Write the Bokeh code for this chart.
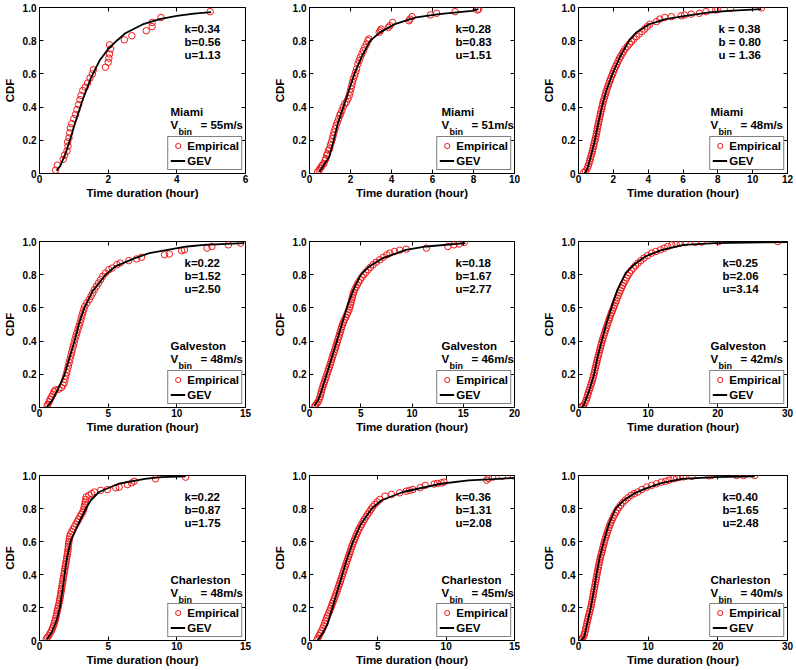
from bokeh.plotting import figure
from bokeh.models import Range1d, FixedTicker, Label, LinearAxis, CustomJSTickFormatter
from bokeh.layouts import gridplot
from bokeh.embed import file_html
from bokeh.resources import INLINE

FONT = "Liberation Sans"
RED = "#f01818"

# ---------------- data ----------------
y_ticks = [0, 0.2, 0.4, 0.6, 0.8, 1.0]

# Row 1: Miami
miami55_emp = [(0.47,0.02),(0.52,0.05),(0.69,0.085),(0.73,0.11),(0.80,0.135),(0.83,0.165),(0.82,0.19),
               (0.86,0.215),(0.88,0.245),(0.90,0.275),(0.94,0.30),(1.00,0.33),(1.05,0.355),(1.09,0.385),
               (1.14,0.415),(1.18,0.445),(1.21,0.47),(1.26,0.50),(1.33,0.52),(1.40,0.545),(1.47,0.575),
               (1.54,0.60),(1.57,0.625),(1.92,0.64),(2.00,0.67),(2.02,0.695),(2.04,0.72),(2.07,0.75),
               (2.04,0.775),(2.47,0.805),(2.69,0.83),(3.11,0.86),(3.28,0.885),(3.28,0.91),(3.54,0.94),(4.97,0.975)]
miami55_gev_x = [0.50,0.60,0.75,0.90,1.00,1.25,1.50,1.75,2.00,2.25,2.50,3.00,3.50,4.00,4.50,5.00]
miami55_gev_y = [0.016,0.045,0.115,0.21,0.28,0.44,0.576,0.68,0.75,0.80,0.845,0.898,0.930,0.950,0.963,0.972]

miami51_emp = [(0.40,0.01),(0.47,0.02),(0.52,0.03),(0.58,0.04),(0.62,0.05),(0.70,0.06),(0.76,0.08),(0.80,0.09),
               (0.84,0.11),(0.88,0.12),(0.93,0.14),(0.98,0.15),(1.02,0.17),(1.07,0.19),(1.12,0.21),(1.16,0.23),
               (1.20,0.25),(1.25,0.27),(1.30,0.29),(1.36,0.31),(1.42,0.33),(1.48,0.35),(1.52,0.36),(1.58,0.38),
               (1.64,0.40),(1.72,0.42),(1.80,0.43),(1.88,0.45),(1.94,0.47),(1.98,0.49),(2.02,0.51),(2.06,0.53),
               (2.10,0.55),(2.14,0.57),(2.20,0.59),(2.25,0.61),(2.30,0.63),(2.36,0.66),(2.42,0.68),(2.48,0.70),
               (2.55,0.72),(2.62,0.74),(2.70,0.76),(2.78,0.78),(2.85,0.80),(2.90,0.81),(3.40,0.85),(3.45,0.86),
               (3.50,0.87),(3.85,0.88),(3.92,0.89),(4.05,0.91),(4.85,0.92),(4.90,0.93),(5.00,0.945),(5.90,0.955),
               (6.20,0.965),(7.10,0.975),(8.20,0.985),(8.25,0.99)]
miami51_gev_x = [0.48,0.96,1.20,1.39,1.65,1.92,2.19,2.53,2.96,3.44,4.16,5.20,6.32,7.92,8.24]
miami51_gev_y = [0.01,0.10,0.21,0.305,0.40,0.50,0.60,0.70,0.80,0.85,0.90,0.94,0.96,0.98,0.99]

miami48_emp = [(0.30,0.005),(0.40,0.015),(0.50,0.03),(0.55,0.045),(0.60,0.06),(0.64,0.075),(0.68,0.09),(0.72,0.105),
               (0.76,0.12),(0.80,0.135),(0.83,0.15),(0.87,0.165),(0.90,0.18),(0.93,0.195),(0.97,0.21),(1.00,0.225),
               (1.03,0.24),(1.06,0.255),(1.08,0.27),(1.11,0.285),(1.14,0.30),(1.17,0.315),(1.20,0.33),(1.23,0.345),
               (1.26,0.36),(1.29,0.375),(1.33,0.39),(1.36,0.405),(1.39,0.42),(1.43,0.435),(1.47,0.45),(1.51,0.465),
               (1.55,0.48),(1.59,0.495),(1.64,0.51),(1.69,0.525),(1.74,0.54),(1.79,0.555),(1.84,0.57),(1.90,0.585),
               (1.96,0.60),(2.01,0.615),(2.07,0.63),(2.14,0.645),(2.20,0.66),(2.27,0.675),(2.34,0.69),(2.42,0.705),
               (2.50,0.72),(2.58,0.735),(2.68,0.75),(2.80,0.765),(2.92,0.78),(3.05,0.795),(3.18,0.81),(3.32,0.825),
               (3.48,0.84),(3.64,0.855),(3.80,0.87),(3.95,0.885),(4.10,0.90),(4.48,0.915),(4.67,0.93),(4.95,0.94),
               (5.33,0.945),(5.90,0.95),(6.09,0.955),(6.47,0.96),(6.94,0.965),(7.32,0.975),(7.88,0.985),(8.00,0.99),
               (8.73,0.995),(10.50,0.997)]
miami48_gev_x = [0.35,0.50,0.70,0.94,1.13,1.34,1.60,1.95,2.37,2.90,3.32,4.08,5.00,6.15,7.50,8.60,10.50]
miami48_gev_y = [0.00,0.025,0.10,0.20,0.30,0.40,0.50,0.60,0.70,0.80,0.85,0.90,0.93,0.95,0.97,0.98,0.99]

# Row 2: Galveston
galv48_emp = [(0.55,0.01),(0.62,0.02),(0.70,0.035),(0.78,0.05),(0.88,0.065),(0.98,0.08),(1.05,0.095),(1.15,0.105),
              (1.40,0.11),(1.60,0.12),(1.72,0.135),(1.80,0.15),(1.86,0.17),(1.92,0.19),(1.98,0.21),(2.04,0.23),
              (2.10,0.25),(2.16,0.27),(2.22,0.29),(2.28,0.31),(2.34,0.33),(2.40,0.35),(2.46,0.37),(2.52,0.39),
              (2.58,0.41),(2.65,0.43),(2.72,0.45),(2.80,0.47),(2.88,0.49),(2.95,0.51),(3.02,0.53),(3.08,0.55),
              (3.15,0.57),(3.22,0.59),(3.30,0.61),(3.45,0.63),(3.62,0.65),(3.75,0.67),(3.88,0.69),(4.00,0.71),
              (4.15,0.73),(4.30,0.75),(4.45,0.77),(4.60,0.79),(4.80,0.81),(5.05,0.83),(5.29,0.84),(5.64,0.86),
              (5.88,0.87),(6.50,0.885),(7.07,0.895),(7.43,0.905),(9.10,0.92),(9.45,0.925),(10.35,0.945),
              (10.55,0.95),(12.20,0.96),(12.55,0.97),(13.75,0.98),(14.65,0.99)]
galv48_gev_x = [0.52,0.90,1.29,1.83,2.19,2.55,2.86,3.26,3.86,4.81,5.52,6.95,8.00,9.33,10.76,12.00,14.90]
galv48_gev_y = [0.00,0.04,0.10,0.20,0.30,0.40,0.50,0.60,0.70,0.80,0.85,0.90,0.93,0.95,0.97,0.98,0.99]

galv46_emp = [(0.50,0.005),(0.60,0.015),(0.72,0.025),(0.85,0.035),(0.95,0.05),(1.03,0.065),(1.10,0.08),(1.16,0.095),
              (1.22,0.11),(1.30,0.125),(1.38,0.14),(1.46,0.155),(1.54,0.17),(1.62,0.185),(1.70,0.20),(1.78,0.215),
              (1.86,0.23),(1.94,0.245),(2.02,0.26),(2.10,0.275),(2.17,0.29),(2.24,0.305),(2.32,0.32),(2.40,0.335),
              (2.48,0.35),(2.56,0.365),(2.63,0.38),(2.70,0.395),(2.78,0.41),(2.86,0.425),(2.93,0.44),(3.00,0.455),
              (3.07,0.47),(3.14,0.485),(3.22,0.50),(3.32,0.515),(3.43,0.53),(3.54,0.545),(3.65,0.56),(3.76,0.575),
              (3.86,0.59),(3.94,0.605),(4.00,0.62),(4.06,0.635),(4.12,0.65),(4.18,0.665),(4.24,0.68),(4.32,0.695),
              (4.42,0.71),(4.54,0.725),(4.66,0.74),(4.80,0.755),(4.95,0.77),(5.12,0.785),(5.30,0.80),(5.50,0.815),
              (5.72,0.83),(5.95,0.845),(6.20,0.86),(6.50,0.875),(6.85,0.89),(7.20,0.905),(7.55,0.92),(7.84,0.93),
              (8.30,0.94),(8.80,0.948),(9.44,0.954),(11.40,0.96),(13.50,0.97),(14.10,0.98),(14.60,0.985),(15.10,0.995)]
galv46_gev_x = [0.48,0.85,1.17,1.67,2.17,2.67,3.17,3.67,4.27,5.00,5.83,7.17,9.40,11.40,15.20]
galv46_gev_y = [0.01,0.045,0.10,0.20,0.30,0.40,0.505,0.606,0.707,0.80,0.85,0.90,0.95,0.97,0.99]

galv42_emp = [(0.35,0.003),(0.55,0.008),(0.75,0.015),(0.95,0.03),(1.10,0.045),(1.22,0.06),(1.32,0.075),(1.42,0.09),
              (1.55,0.105),(1.66,0.12),(1.78,0.135),(1.90,0.15),(2.00,0.165),(2.10,0.18),(2.18,0.195),(2.27,0.21),
              (2.35,0.225),(2.43,0.24),(2.51,0.255),(2.60,0.27),(2.69,0.285),(2.78,0.30),(2.87,0.315),(2.96,0.33),
              (3.05,0.345),(3.14,0.36),(3.23,0.375),(3.33,0.39),(3.43,0.405),(3.54,0.42),(3.65,0.435),(3.76,0.45),
              (3.88,0.465),(3.99,0.48),(4.11,0.495),(4.23,0.51),(4.35,0.525),(4.47,0.54),(4.60,0.555),(4.74,0.57),
              (4.88,0.585),(5.02,0.60),(5.15,0.615),(5.28,0.63),(5.42,0.645),(5.56,0.66),(5.71,0.675),(5.86,0.69),
              (6.01,0.705),(6.17,0.72),(6.34,0.735),(6.52,0.75),(6.70,0.765),(6.90,0.78),(7.10,0.795),(7.32,0.81),
              (7.58,0.825),(7.88,0.84),(8.20,0.855),(8.55,0.87),(8.95,0.885),(9.40,0.90),(9.90,0.915),(10.50,0.93),
              (11.10,0.94),(11.76,0.95),(12.30,0.96),(12.80,0.97),(13.40,0.98),(14.00,0.985),(14.60,0.99),
              (15.30,0.993),(16.80,0.995),(17.70,0.997),(20.10,0.999),(28.60,1.0)]
galv42_gev_x = [0.48,0.81,1.52,2.24,2.71,3.33,4.00,4.76,5.57,6.76,7.95,9.60,12.00,15.10,19.60,30.00]
galv42_gev_y = [0.00,0.02,0.10,0.20,0.30,0.40,0.505,0.606,0.707,0.81,0.86,0.91,0.95,0.98,0.99,0.997]

# Row 3: Charleston
char48_emp = [(0.50,0.01),(0.58,0.02),(0.68,0.03),(0.78,0.045),(0.88,0.06),(0.95,0.075),(1.02,0.09),(1.08,0.105),
              (1.13,0.12),(1.18,0.135),(1.22,0.15),(1.26,0.165),(1.30,0.18),(1.34,0.195),(1.38,0.21),(1.42,0.225),
              (1.46,0.24),(1.49,0.255),(1.52,0.27),(1.55,0.285),(1.58,0.30),(1.61,0.315),(1.64,0.33),(1.67,0.345),
              (1.70,0.36),(1.73,0.375),(1.76,0.39),(1.79,0.405),(1.82,0.42),(1.85,0.435),(1.88,0.45),(1.91,0.465),
              (1.94,0.48),(1.97,0.495),(2.00,0.51),(2.03,0.525),(2.06,0.54),(2.08,0.555),(2.10,0.57),(2.12,0.585),
              (2.14,0.60),(2.17,0.615),(2.20,0.63),(2.26,0.645),(2.35,0.66),(2.45,0.675),(2.55,0.69),(2.65,0.705),
              (2.75,0.72),(2.85,0.735),(2.95,0.75),(3.05,0.765),(3.15,0.78),(3.22,0.795),(3.26,0.81),(3.30,0.825),
              (3.33,0.84),(3.36,0.855),(3.40,0.87),(3.60,0.88),(3.80,0.89),(4.00,0.90),(4.45,0.91),(4.95,0.915),
              (5.55,0.925),(5.80,0.93),(6.40,0.945),(6.70,0.955),(6.90,0.965),(8.45,0.98),(10.64,0.99)]
char48_gev_x = [0.52,0.90,1.24,1.48,1.67,1.83,2.00,2.26,2.79,3.38,3.74,4.33,5.76,7.67,8.86,10.64]
char48_gev_y = [0.006,0.05,0.12,0.20,0.30,0.40,0.50,0.60,0.70,0.80,0.85,0.90,0.95,0.98,0.99,0.995]

char45_emp = [(0.55,0.005),(0.62,0.015),(0.70,0.03),(0.80,0.045),(0.90,0.06),(0.98,0.075),(1.05,0.09),(1.12,0.105),
              (1.18,0.12),(1.25,0.135),(1.32,0.15),(1.40,0.165),(1.48,0.18),(1.55,0.195),(1.62,0.21),(1.68,0.225),
              (1.75,0.24),(1.82,0.255),(1.88,0.27),(1.95,0.285),(2.02,0.30),(2.08,0.315),(2.14,0.33),(2.20,0.345),
              (2.26,0.36),(2.32,0.375),(2.38,0.39),(2.44,0.405),(2.50,0.42),(2.56,0.435),(2.62,0.45),(2.68,0.465),
              (2.74,0.48),(2.80,0.495),(2.86,0.51),(2.92,0.525),(2.98,0.54),(3.04,0.555),(3.10,0.57),(3.17,0.585),
              (3.24,0.60),(3.31,0.615),(3.38,0.63),(3.46,0.645),(3.54,0.66),(3.62,0.675),(3.72,0.69),(3.82,0.705),
              (3.92,0.72),(4.02,0.735),(4.14,0.75),(4.26,0.765),(4.38,0.78),(4.50,0.795),(4.62,0.81),(4.78,0.825),
              (4.95,0.84),(5.15,0.855),(5.52,0.875),(6.00,0.885),(6.60,0.895),(7.08,0.905),(7.32,0.91),(7.56,0.915),
              (8.10,0.926),(8.47,0.94),(9.12,0.948),(9.36,0.952),(9.65,0.956),(9.84,0.96),(12.96,0.972),(13.10,0.982),
              (13.40,0.99),(14.10,0.995),(14.90,0.998)]
char45_gev_x = [0.60,1.00,1.32,1.68,2.04,2.40,2.76,3.19,3.72,4.56,5.28,6.84,9.60,11.64,13.80,15.00]
char45_gev_y = [0.00,0.05,0.10,0.20,0.30,0.40,0.50,0.60,0.70,0.80,0.85,0.90,0.95,0.97,0.98,0.985]

char40_emp = [(0.30,0.003),(0.45,0.008),(0.60,0.015),(0.75,0.025),(0.85,0.04),(0.95,0.055),(1.03,0.07),(1.11,0.085),
              (1.19,0.10),(1.27,0.115),(1.35,0.13),(1.43,0.145),(1.52,0.16),(1.61,0.175),(1.70,0.19),(1.79,0.205),
              (1.86,0.22),(1.93,0.235),(2.00,0.25),(2.06,0.265),(2.12,0.28),(2.18,0.295),(2.25,0.31),(2.32,0.325),
              (2.39,0.34),(2.46,0.355),(2.52,0.37),(2.58,0.385),(2.65,0.40),(2.72,0.415),(2.79,0.43),(2.86,0.445),
              (2.93,0.46),(3.00,0.475),(3.08,0.49),(3.16,0.505),(3.25,0.52),(3.34,0.535),(3.43,0.55),(3.52,0.565),
              (3.61,0.58),(3.70,0.595),(3.80,0.61),(3.91,0.625),(4.02,0.64),(4.14,0.655),(4.26,0.67),(4.38,0.685),
              (4.50,0.70),(4.64,0.715),(4.80,0.73),(4.96,0.745),(5.14,0.76),(5.34,0.775),(5.55,0.79),(5.78,0.805),
              (6.05,0.82),(6.35,0.835),(6.70,0.85),(7.10,0.865),(7.55,0.88),(8.00,0.89),(8.50,0.90),(9.10,0.915),
              (9.80,0.93),(10.50,0.94),(11.20,0.95),(11.90,0.96),(12.50,0.965),(13.00,0.972),(13.60,0.98),
              (14.10,0.985),(14.60,0.99),(15.10,0.992),(16.30,0.995),(18.70,0.998),(19.10,1.0),(22.70,1.0),
              (23.70,1.0),(25.30,1.0)]
char40_gev_x = [0.33,0.81,1.29,1.76,2.24,2.57,3.05,3.67,4.38,5.33,6.52,7.95,9.60,12.00,14.86,19.60,25.30]
char40_gev_y = [0.00,0.02,0.11,0.20,0.31,0.40,0.505,0.606,0.707,0.80,0.85,0.89,0.92,0.955,0.98,0.99,0.995]

# panel texts and axis extents
cities = ["Miami", "Miami", "Miami", "Galveston", "Galveston", "Galveston", "Charleston", "Charleston", "Charleston"]
vbins = ["= 55m/s", "= 51m/s", "= 48m/s", "= 48m/s", "= 46m/s", "= 42m/s", "= 48m/s", "= 45m/s", "= 40m/s"]
k_txt = ["k=0.34", "k=0.28", "k = 0.38", "k=0.22", "k=0.18", "k=0.25", "k=0.22", "k=0.36", "k=0.40"]
b_txt = ["b=0.56", "b=0.83", "b = 0.80", "b=1.52", "b=1.67", "b=2.06", "b=0.87", "b=1.31", "b=1.65"]
u_txt = ["u=1.13", "u=1.51", "u = 1.36", "u=2.50", "u=2.77", "u=3.14", "u=1.75", "u=2.08", "u=2.48"]
x_max = [6, 10, 12, 15, 20, 30, 15, 15, 30]
x_ticks = [[0, 2, 4, 6], [0, 2, 4, 6, 8, 10], [0, 2, 4, 6, 8, 10, 12],
           [0, 5, 10, 15], [0, 5, 10, 15, 20], [0, 10, 20, 30],
           [0, 5, 10, 15], [0, 5, 10, 15], [0, 10, 20, 30]]
emp_sets = [miami55_emp, miami51_emp, miami48_emp, galv48_emp, galv46_emp, galv42_emp,
            char48_emp, char45_emp, char40_emp]
gev_sets = [(miami55_gev_x, miami55_gev_y), (miami51_gev_x, miami51_gev_y), (miami48_gev_x, miami48_gev_y),
            (galv48_gev_x, galv48_gev_y), (galv46_gev_x, galv46_gev_y), (galv42_gev_x, galv42_gev_y),
            (char48_gev_x, char48_gev_y), (char45_gev_x, char45_gev_y), (char40_gev_x, char40_gev_y)]

# ---------------- layout ----------------
COL_W = [270, 268, 256]
COL_L = [35, 36, 40]
COL_R = [25, 24, 7]
ROW_H = [234, 234, 200]
ROW_T = 7
ROW_B = [61, 61, 27]
STAT_DX = [-61, -59, -65]
CITY_DX = [-75, -73, -77]
TXT = "11.5px"


def txt(p, s, xe, dx, dy, size=TXT):
    p.add_layout(Label(x=xe, y=1.0, x_offset=dx, y_offset=dy, text=s, text_font=FONT,
                       text_font_style="bold", text_font_size=size, text_align="left",
                       text_baseline="middle", text_color="black"))


def make_panel(i):
    r, c = divmod(i, 3)
    xm = x_max[i]
    p = figure(width=COL_W[c], height=ROW_H[r], x_range=Range1d(0, xm), y_range=Range1d(0, 1),
               output_backend="svg", toolbar_location=None,
               min_border_left=COL_L[c], min_border_right=COL_R[c],
               min_border_top=ROW_T, min_border_bottom=ROW_B[r],
               x_axis_label="Time duration (hour)", y_axis_label="CDF")
    p.grid.visible = False
    p.outline_line_color = "black"
    p.outline_line_width = 1
    p.background_fill_color = "white"
    p.border_fill_color = "white"

    p.xaxis.ticker = FixedTicker(ticks=x_ticks[i])
    p.yaxis.ticker = FixedTicker(ticks=y_ticks)
    p.yaxis.formatter = CustomJSTickFormatter(code="return tick == 0 ? '0' : tick.toFixed(1);")
    for ax in (p.xaxis[0], p.yaxis[0]):
        ax.major_tick_in = 4
        ax.major_tick_out = 0
        ax.minor_tick_line_color = None
        ax.axis_line_color = "black"
        ax.major_tick_line_color = "black"
        ax.major_label_text_font = FONT
        ax.major_label_text_font_style = "bold"
        ax.major_label_text_font_size = "10px"
        ax.major_label_text_color = "black"
        ax.axis_label_text_font = FONT
        ax.axis_label_text_font_style = "bold"
        ax.axis_label_text_font_size = TXT
        ax.axis_label_text_color = "black"
    p.xaxis.major_label_standoff = 1
    p.xaxis.axis_label_standoff = 1
    p.yaxis.major_label_standoff = 3
    p.yaxis.axis_label_standoff = 4

    top = LinearAxis(ticker=FixedTicker(ticks=x_ticks[i]), major_tick_in=4, major_tick_out=0,
                     minor_tick_line_color=None, major_label_text_font_size="0px",
                     major_label_standoff=0, axis_line_color=None)
    right = LinearAxis(ticker=FixedTicker(ticks=y_ticks), major_tick_in=4, major_tick_out=0,
                       minor_tick_line_color=None, major_label_text_font_size="0px",
                       major_label_standoff=0, axis_line_color=None)
    p.add_layout(top, "above")
    p.add_layout(right, "right")

    ex = [pt[0] for pt in emp_sets[i]]
    ey = [pt[1] for pt in emp_sets[i]]
    gx, gy = gev_sets[i]
    p.scatter(ex, ey, marker="circle", size=6.5, fill_color=None, line_color=RED,
              line_width=1, legend_label="Empirical")
    p.line(gx, gy, line_color="black", line_width=1.8, legend_label="GEV")

    lg = p.legend[0]
    lg.location = "bottom_right"
    lg.margin = 3
    lg.padding = 2
    lg.spacing = 2
    lg.glyph_width = 15
    lg.glyph_height = 13
    lg.label_height = 13
    lg.label_standoff = 2
    lg.border_line_color = "black"
    lg.border_line_width = 1
    lg.background_fill_color = "white"
    lg.background_fill_alpha = 1
    lg.label_text_font = FONT
    lg.label_text_font_style = "bold"
    lg.label_text_font_size = TXT
    lg.label_text_color = "black"

    sdx = STAT_DX[c] - (4 if i == 2 else 0)
    cdx = CITY_DX[c]
    txt(p, k_txt[i], xm, sdx, -21)
    txt(p, b_txt[i], xm, sdx, -34.5)
    txt(p, u_txt[i], xm, sdx, -47)
    txt(p, cities[i], xm, cdx, -104)
    txt(p, "V", xm, cdx, -117)
    txt(p, "bin", xm, cdx + 8, -124, size="9px")
    txt(p, vbins[i], xm, cdx + 30, -117)
    return p


panels = [make_panel(i) for i in range(9)]
grid = gridplot([panels[0:3], panels[3:6], panels[6:9]], toolbar_location=None)

open("out.html", "w").write(file_html(grid, INLINE))
